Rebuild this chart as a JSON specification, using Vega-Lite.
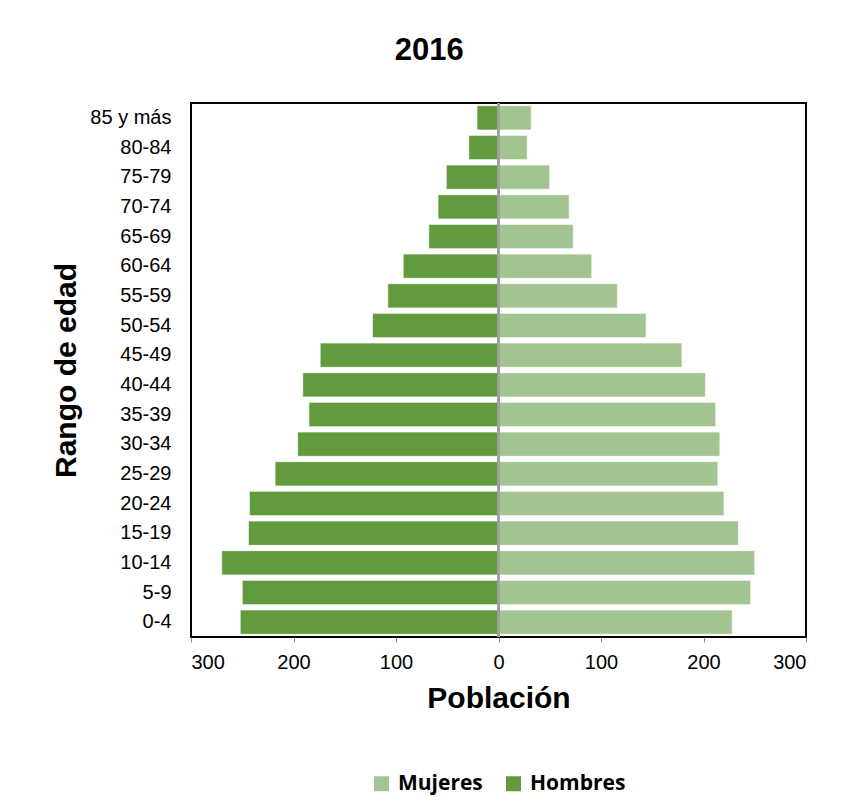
{
  "$schema": "https://vega.github.io/schema/vega-lite/v6.json",
  "width": 615,
  "height": 534,
  "padding": {"left": 51, "top": 35, "right": 5, "bottom": 5},
  "background": "white",
  "config": {
    "view": {"stroke": "#000000", "strokeWidth": 2},
    "font": "Liberation Sans, Arial, sans-serif",
    "legend": {"layout": {"bottom": {"anchor": "middle"}}}
  },
  "title": {
    "text": "2016",
    "font": "Liberation Sans, Arial, sans-serif",
    "fontSize": 31,
    "fontWeight": "bold",
    "color": "#000000",
    "anchor": "middle",
    "frame": "bounds",
    "offset": 35
  },
  "data": {
    "values": [
      {"edad": "85 y más", "sexo": "Hombres", "poblacion": -21},
      {"edad": "80-84", "sexo": "Hombres", "poblacion": -29},
      {"edad": "75-79", "sexo": "Hombres", "poblacion": -51},
      {"edad": "70-74", "sexo": "Hombres", "poblacion": -59},
      {"edad": "65-69", "sexo": "Hombres", "poblacion": -68},
      {"edad": "60-64", "sexo": "Hombres", "poblacion": -93},
      {"edad": "55-59", "sexo": "Hombres", "poblacion": -108},
      {"edad": "50-54", "sexo": "Hombres", "poblacion": -123},
      {"edad": "45-49", "sexo": "Hombres", "poblacion": -174},
      {"edad": "40-44", "sexo": "Hombres", "poblacion": -191},
      {"edad": "35-39", "sexo": "Hombres", "poblacion": -185},
      {"edad": "30-34", "sexo": "Hombres", "poblacion": -196},
      {"edad": "25-29", "sexo": "Hombres", "poblacion": -218},
      {"edad": "20-24", "sexo": "Hombres", "poblacion": -243},
      {"edad": "15-19", "sexo": "Hombres", "poblacion": -244},
      {"edad": "10-14", "sexo": "Hombres", "poblacion": -270},
      {"edad": "5-9", "sexo": "Hombres", "poblacion": -250},
      {"edad": "0-4", "sexo": "Hombres", "poblacion": -252},
      {"edad": "85 y más", "sexo": "Mujeres", "poblacion": 32},
      {"edad": "80-84", "sexo": "Mujeres", "poblacion": 28},
      {"edad": "75-79", "sexo": "Mujeres", "poblacion": 50},
      {"edad": "70-74", "sexo": "Mujeres", "poblacion": 69},
      {"edad": "65-69", "sexo": "Mujeres", "poblacion": 73},
      {"edad": "60-64", "sexo": "Mujeres", "poblacion": 91},
      {"edad": "55-59", "sexo": "Mujeres", "poblacion": 116},
      {"edad": "50-54", "sexo": "Mujeres", "poblacion": 144},
      {"edad": "45-49", "sexo": "Mujeres", "poblacion": 179},
      {"edad": "40-44", "sexo": "Mujeres", "poblacion": 202},
      {"edad": "35-39", "sexo": "Mujeres", "poblacion": 212},
      {"edad": "30-34", "sexo": "Mujeres", "poblacion": 216},
      {"edad": "25-29", "sexo": "Mujeres", "poblacion": 214},
      {"edad": "20-24", "sexo": "Mujeres", "poblacion": 220},
      {"edad": "15-19", "sexo": "Mujeres", "poblacion": 234},
      {"edad": "10-14", "sexo": "Mujeres", "poblacion": 250},
      {"edad": "5-9", "sexo": "Mujeres", "poblacion": 246},
      {"edad": "0-4", "sexo": "Mujeres", "poblacion": 228}
    ]
  },
  "layer": [
    {
      "mark": {"type": "bar", "stroke": "#ffffff", "strokeWidth": 1, "strokeOpacity": 0.7},
      "encoding": {
        "y": {
          "field": "edad",
          "type": "nominal",
          "sort": ["85 y más", "80-84", "75-79", "70-74", "65-69", "60-64", "55-59", "50-54", "45-49", "40-44", "35-39", "30-34", "25-29", "20-24", "15-19", "10-14", "5-9", "0-4"],
          "scale": {"paddingInner": 0.18, "paddingOuter": 0.09},
          "axis": {
            "title": "Rango de edad",
            "titleFont": "Liberation Sans, Arial, sans-serif",
            "titleFontSize": 30,
            "titleFontWeight": "bold",
            "titleColor": "#000000",
            "titlePadding": 8,
            "labelFont": "Liberation Sans, Arial, sans-serif",
            "labelFontSize": 20,
            "labelColor": "#000000",
            "labelPadding": 20,
            "ticks": false,
            "domain": false
          }
        },
        "x": {
          "field": "poblacion",
          "type": "quantitative",
          "stack": null,
          "scale": {"domain": [-300, 300], "nice": false},
          "axis": {
            "title": "Población",
            "titleFont": "Liberation Sans, Arial, sans-serif",
            "titleFontSize": 30,
            "titleFontWeight": "bold",
            "titleColor": "#000000",
            "titlePadding": 11,
            "values": [-300, -200, -100, 0, 100, 200, 300],
            "labelExpr": "abs(datum.value)",
            "labelFont": "Liberation Sans, Arial, sans-serif",
            "labelFontSize": 20,
            "labelColor": "#000000",
            "labelPadding": 10,
            "tickSize": 5,
            "tickColor": "#888888",
            "grid": false,
            "domain": false
          }
        },
        "color": {
          "field": "sexo",
          "type": "nominal",
          "scale": {"domain": ["Mujeres", "Hombres"], "range": ["#a2c490", "#629a3e"]},
          "legend": {
            "title": null,
            "orient": "bottom",
            "direction": "horizontal",
            "offset": 60,
            "symbolType": "square",
            "symbolSize": 225,
            "symbolStrokeWidth": 0,
            "labelFont": "Open Sans",
            "labelFontSize": 21,
            "labelFontWeight": "bold",
            "labelColor": "#000000",
            "labelOffset": 6,
            "columnPadding": 20
          }
        }
      }
    },
    {
      "mark": {"type": "rule", "color": "#a0a0a0", "strokeWidth": 1.5},
      "encoding": {"x": {"datum": 0}}
    }
  ]
}
